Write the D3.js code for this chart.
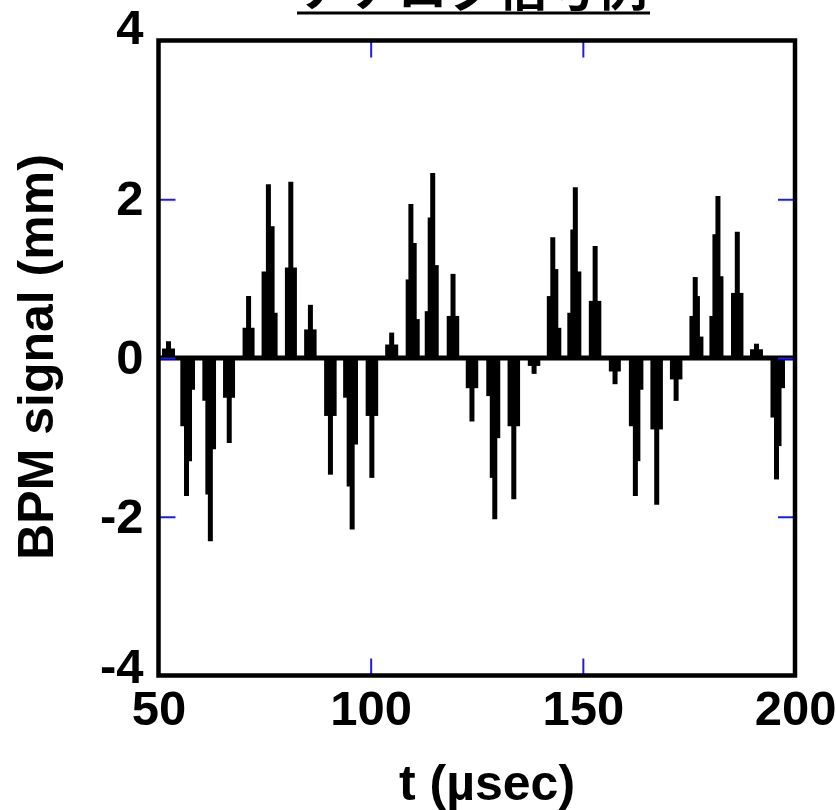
<!doctype html>
<html>
  <head>
    <meta charset="utf-8">
    <script src="https://cdnjs.cloudflare.com/ajax/libs/d3/7.8.5/d3.min.js"></script>
    <style>
      body { margin: 0; background: #fff; }
      text { font-family: "Liberation Sans", Arial, sans-serif; font-weight: bold; fill: #000; }
    </style>
  </head>
  <body>
    <svg width="836" height="810"></svg>
    <script>
        // sample times (usec) and BPM signal values (mm)
        var stemT = [
            51.42, 52.36, 53.30,
            55.73, 56.60, 57.31, 58.02,
            60.92, 61.63, 62.22, 62.97,
            65.80, 66.67, 67.45,
            70.40, 71.23, 72.05,
            74.88, 75.90, 76.77, 77.48,
            80.38, 81.18, 82.03,
            84.91, 85.80, 86.67,
            89.62, 90.52, 91.39,
            94.10, 94.93, 95.64, 96.42,
            99.41, 100.28, 101.18,
            104.01, 104.95, 105.90,
            108.84, 109.48, 110.26, 110.97,
            113.33, 114.03, 114.62, 115.45,
            118.51, 119.41, 120.28,
            123.00, 123.87, 124.76,
            127.83, 128.66, 129.25, 129.95,
            132.85, 133.73, 134.62,
            137.62, 138.51, 139.39,
            142.10, 142.92, 143.63, 144.34,
            146.93, 147.64, 148.23, 149.06,
            152.00, 152.90, 153.77,
            156.72, 157.59, 158.37,
            161.44, 162.38, 162.97, 163.68,
            166.51, 167.41, 168.28,
            171.11, 171.98, 172.88,
            175.71, 176.49, 177.00, 177.83,
            180.42, 181.13, 181.84, 182.55,
            185.50, 186.40, 187.26,
            189.98, 190.92, 191.86,
            194.81, 195.64, 196.23, 197.05
        ];
        var stemV = [
            0.12, 0.21, 0.12,
            -0.86, -1.74, -1.30, -0.40,
            -0.54, -1.72, -2.31, -1.15,
            -0.50, -1.07, -0.50,
            0.38, 0.78, 0.38,
            1.09, 2.19, 1.66, 0.57,
            1.14, 2.22, 1.14,
            0.36, 0.67, 0.36,
            -0.73, -1.47, -0.73,
            -0.50, -1.62, -2.16, -1.09,
            -0.73, -1.51, -0.73,
            0.17, 0.32, 0.17,
            0.99, 1.94, 1.45, 0.49,
            0.59, 1.77, 2.33, 1.17,
            0.53, 1.06, 0.53,
            -0.38, -0.80, -0.38,
            -0.48, -1.51, -2.03, -1.01,
            -0.86, -1.78, -0.86,
            -0.10, -0.20, -0.10,
            0.78, 1.52, 1.12, 0.38,
            0.57, 1.62, 2.15, 1.09,
            0.72, 1.41, 0.72,
            -0.17, -0.33, -0.17,
            -0.86, -1.74, -1.30, -0.40,
            -0.90, -1.85, -0.90,
            -0.27, -0.54, -0.27,
            0.53, 1.02, 0.78, 0.27,
            0.53, 1.56, 2.04, 1.03,
            0.82, 1.59, 0.82,
            0.11, 0.18, 0.11,
            -0.75, -1.53, -1.11, -0.38
        ];
        var xTicks = [50, 100, 150, 200];
        var yTicks = [-4, -2, 0, 2, 4];
        var xInner = [100, 150];
        var yInner = [-2, 0, 2];

        var stems = stemT.map((t, i) => ({t: t, v: stemV[i]}));

        var svg = d3.select("svg");
        var xScale = d3.scaleLinear().domain([50, 200]).range([158.5, 795]);
        var yScale = d3.scaleLinear().domain([-4, 4]).range([675.5, 40.5]);

        // title (mostly above the page edge)
        svg.append("text")
            .attr("x", 473)
            .attr("y", 6)
            .attr("text-anchor", "middle")
            .style("font-family", "'Noto Sans CJK JP', sans-serif")
            .style("font-size", "50px")
            .text("アナログ信号例");
        svg.append("line")
            .attr("x1", 297).attr("x2", 650)
            .attr("y1", 13).attr("y2", 13)
            .attr("stroke", "#000")
            .attr("stroke-width", 3);

        svg.append("clipPath").attr("id", "plotclip")
            .append("rect")
            .attr("x", xScale(50)).attr("y", yScale(4))
            .attr("width", xScale(200) - xScale(50))
            .attr("height", yScale(-4) - yScale(4));

        var plot = svg.append("g").attr("clip-path", "url(#plotclip)");

        // zero baseline of the trace
        plot.append("line")
            .attr("x1", xScale(50)).attr("x2", xScale(200))
            .attr("y1", yScale(0)).attr("y2", yScale(0))
            .attr("stroke", "#000")
            .attr("stroke-width", 5);

        plot.selectAll(".stem")
            .data(stems)
            .enter()
            .append("line")
            .attr("class", "stem")
            .attr("x1", d => xScale(d.t)).attr("x2", d => xScale(d.t))
            .attr("y1", yScale(0)).attr("y2", d => yScale(d.v))
            .attr("stroke", "#000")
            .attr("stroke-width", 5);

        // blue inner ticks on all four sides
        function blueTicks(g) {
            g.select(".domain").remove();
            g.selectAll("line").attr("stroke", "#1a1aff").attr("stroke-width", 2);
            g.selectAll("text").remove();
        }
        svg.append("g").attr("transform", "translate(0," + yScale(-4) + ")")
            .call(d3.axisBottom(xScale).tickValues(xInner).tickSize(-17)).call(blueTicks);
        svg.append("g").attr("transform", "translate(0," + yScale(4) + ")")
            .call(d3.axisTop(xScale).tickValues(xInner).tickSize(-17)).call(blueTicks);
        svg.append("g").attr("transform", "translate(" + xScale(50) + ",0)")
            .call(d3.axisLeft(yScale).tickValues(yInner).tickSize(-17)).call(blueTicks);
        svg.append("g").attr("transform", "translate(" + xScale(200) + ",0)")
            .call(d3.axisRight(yScale).tickValues(yInner).tickSize(-17)).call(blueTicks);

        // frame
        svg.append("rect")
            .attr("x", xScale(50)).attr("y", yScale(4))
            .attr("width", xScale(200) - xScale(50))
            .attr("height", yScale(-4) - yScale(4))
            .attr("fill", "none")
            .attr("stroke", "#000")
            .attr("stroke-width", 4.5);

        // tick labels (plain hyphen for the minus sign)
        function labels(g) {
            g.select(".domain").remove();
            g.selectAll("line").remove();
            g.selectAll("text").style("font-size", "49px").attr("fill", "#000");
        }
        svg.append("g").attr("transform", "translate(0," + yScale(-4) + ")")
            .call(d3.axisBottom(xScale).tickValues(xTicks).tickSize(0).tickPadding(15).tickFormat(d => String(d)))
            .call(labels);
        var yLab = svg.append("g").attr("transform", "translate(" + xScale(50) + ",0)")
            .call(d3.axisLeft(yScale).tickValues(yTicks).tickSize(0).tickPadding(15).tickFormat(d => String(d)))
            .call(labels);
        // end labels sit a little above their ticks
        yLab.selectAll(".tick text")
            .attr("y", d => d === 4 ? -13 : d === -4 ? -9 : 0);

        svg.append("text")
            .attr("x", 487).attr("y", 800)
            .attr("text-anchor", "middle")
            .style("font-size", "50px")
            .text("t (µsec)");

        svg.append("text")
            .attr("transform", "translate(53,357) rotate(-90)")
            .attr("text-anchor", "middle")
            .style("font-size", "50px")
            .text("BPM signal (mm)");
    </script>
  </body>
</html>
